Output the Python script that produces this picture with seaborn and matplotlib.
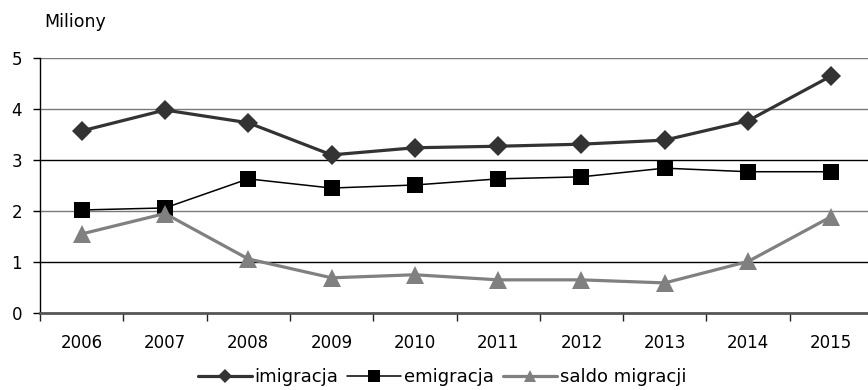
import matplotlib
matplotlib.use("Agg")
import matplotlib.pyplot as plt
import seaborn as sns
import pandas as pd
import numpy as np

years = ["2006", "2007", "2008", "2009", "2010", "2011", "2012", "2013", "2014", "2015"]
imigracja = [3.57, 3.98, 3.73, 3.10, 3.24, 3.27, 3.31, 3.39, 3.77, 4.65]
emigracja = [2.02, 2.06, 2.63, 2.45, 2.51, 2.63, 2.67, 2.84, 2.77, 2.77]
saldo = [1.55, 1.95, 1.06, 0.69, 0.75, 0.65, 0.65, 0.59, 1.01, 1.89]
series_names = ["imigracja", "emigracja", "saldo migracji"]

sns.set_style("white")
plt.rcParams["font.family"] = ["DejaVu Sans"]
plt.rcParams["text.color"] = "black"
plt.rcParams["xtick.labelcolor"] = "black"
plt.rcParams["ytick.labelcolor"] = "black"

fig = plt.figure(figsize=(8.68, 3.9), dpi=100)
ax = fig.add_axes([40 / 868, 77 / 390, 833 / 868, 255 / 390])

idx = np.arange(len(years))
styles = [
    dict(color="#333333", marker="D", markersize=10, linewidth=2.3),
    dict(color="#000000", marker="s", markersize=11.5, linewidth=1.1),
    dict(color="#808080", marker="^", markersize=13, linewidth=2.3),
]
for name, vals, st in zip(series_names, [imigracja, emigracja, saldo], styles):
    df = pd.DataFrame({"x": idx, "y": vals})
    sns.lineplot(data=df, x="x", y="y", ax=ax, label=name,
                 markeredgewidth=0, zorder=3, **st)

ax.set_xlim(-0.5, 9.5)
ax.set_ylim(0, 5)
ax.set_yticks([0, 1, 2, 3, 4, 5])
for v, c in zip([1, 2, 3, 4, 5], ["#000000", "#7a7a7a", "#000000", "#7a7a7a", "#7a7a7a"]):
    ax.axhline(v, color=c, linewidth=1.0, zorder=1)

ax.set_xticks(idx)
ax.set_xticklabels(years)
ax.set_xticks(np.arange(-0.5, 10, 1.0), minor=True)
ax.tick_params(axis="x", which="major", length=0, pad=15, labelsize=12, labelcolor="black")
ax.tick_params(axis="x", which="minor", length=6, width=1, color="#222222", direction="out")
ax.tick_params(axis="y", length=5, width=1, color="#000000", direction="out",
               labelsize=12, pad=8, labelcolor="black")
ax.xaxis.set_ticks_position("bottom")
ax.yaxis.set_ticks_position("left")

ax.set_xlabel("")
ax.set_ylabel("")
for s in ["top", "right"]:
    ax.spines[s].set_visible(False)
ax.spines["left"].set_color("#000000")
ax.spines["left"].set_linewidth(1.0)
ax.spines["bottom"].set_color("#555555")
ax.spines["bottom"].set_linewidth(2.0)

fig.text(44 / 868, 1 - 22 / 390, "Miliony", fontsize=12.5, va="center", ha="left", color="black")

leg = ax.legend(loc="center", bbox_to_anchor=(402 / 833, -64 / 255), ncol=3,
                frameon=False, fontsize=13, handlelength=3.0, handletextpad=0.15,
                columnspacing=0.5, borderpad=0, markerscale=0.7, labelcolor="black")

fig.savefig("out.png", dpi=100)
